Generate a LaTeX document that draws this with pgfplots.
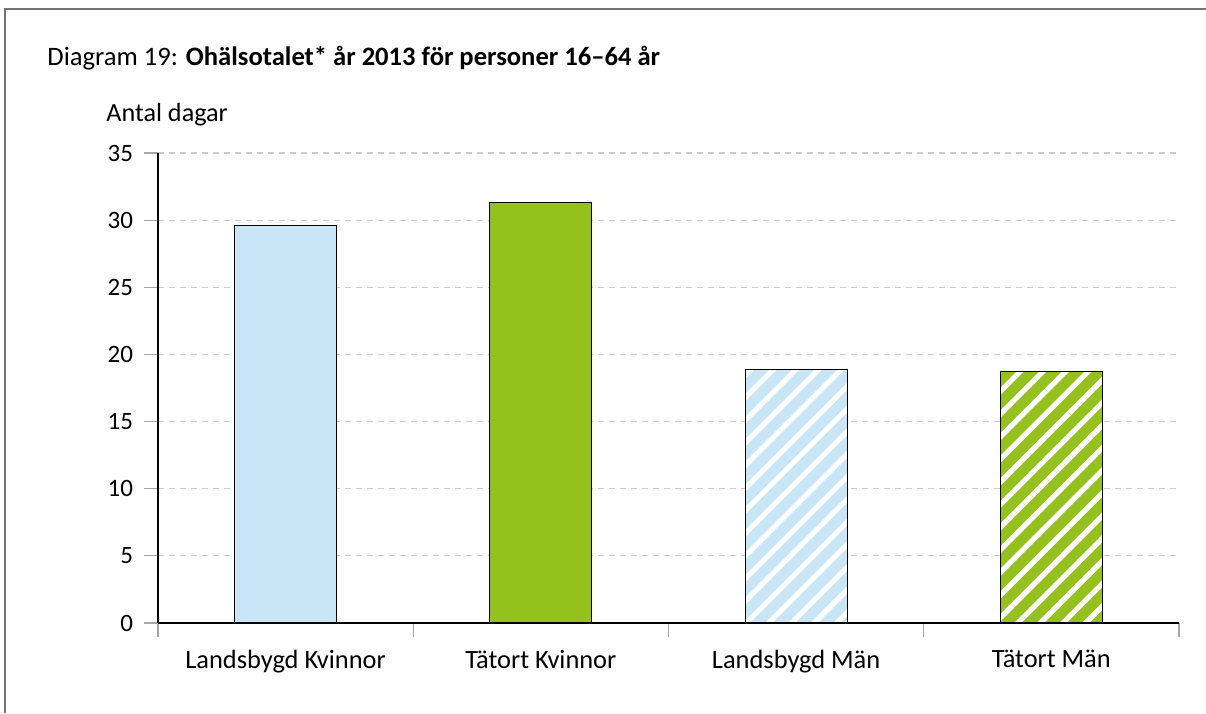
\documentclass[border=0pt]{standalone}
\usepackage{pgfplots}
\pgfplotsset{compat=1.18}
\usepackage{fontspec}
\setmainfont{Carlito}
\usetikzlibrary{patterns.meta}
\definecolor{lblue}{HTML}{C9E6F7}
\definecolor{lgreen}{HTML}{95C11F}
\definecolor{gridgray}{HTML}{CCCCCC}
\definecolor{tickgray}{HTML}{A6A6A6}
\begin{document}
\begin{tikzpicture}
\path[use as bounding box] (0,0) rectangle (603pt,356.5pt);
\draw[black!55, line width=1pt] (2.5pt,0) -- (2.5pt,352pt) -- (603pt,352pt);
\node[anchor=base west, inner sep=0pt, font=\fontsize{13.3}{15}\selectfont] at (23.5pt,323.5pt) {Diagram 19: \textbf{Ohälsotalet* år 2013 för personer 16–64 år}};
\node[anchor=west, inner sep=0pt, font=\fontsize{13.1}{15}\selectfont] at (53pt,299pt) {Antal dagar};
\begin{axis}[
  at={(79pt,45pt)}, anchor=south west,
  width=510.5pt, height=235pt, scale only axis,
  xmin=-0.5, xmax=3.5, ymin=0, ymax=35,
  axis x line*=bottom, axis y line*=left,
  axis line style={black, line width=1.3pt},
  xtick={0,1,2,3},
  xticklabels={Landsbygd Kvinnor, Tätort Kvinnor, Landsbygd Män, Tätort Män},
  major x tick style={draw=none},
  minor xtick={-0.5,0.5,1.5,2.5,3.5},
  minor x tick style={tickgray, line width=0.6pt},
  minor tick length=7pt,
  ytick={0,5,10,15,20,25,30,35},
  y tick style={tickgray, line width=0.6pt},
  major tick length=7pt,
  tick align=outside,
  ymajorgrids,
  grid style={gridgray, line width=0.6pt, dash pattern=on 3pt off 2.5pt},
  xticklabel style={font=\fontsize{13.2}{15}\selectfont, yshift=-3pt},
  yticklabel style={font=\fontsize{12.5}{14}\selectfont, xshift=-2pt},
  /pgf/number format/assume math mode=true,
]
\addplot[ybar, bar shift=0pt, bar width=51pt, draw=black, line width=0.6pt, fill=lblue] coordinates {(0,29.6)};
\addplot[ybar, bar shift=0pt, bar width=51pt, draw=black, line width=0.6pt, fill=lgreen] coordinates {(1,31.3)};
\addplot[ybar, bar shift=0pt, bar width=51pt, draw=black, line width=0.6pt, fill=lblue,
  postaction={pattern={Lines[angle=45,distance=8pt,line width=2.6pt]}, pattern color=white}] coordinates {(2,18.9)};
\addplot[ybar, bar shift=0pt, bar width=51pt, draw=black, line width=0.6pt, fill=lgreen,
  postaction={pattern={Lines[angle=45,distance=8pt,line width=2.6pt]}, pattern color=white}] coordinates {(3,18.7)};
\end{axis}
\end{tikzpicture}
\end{document}
